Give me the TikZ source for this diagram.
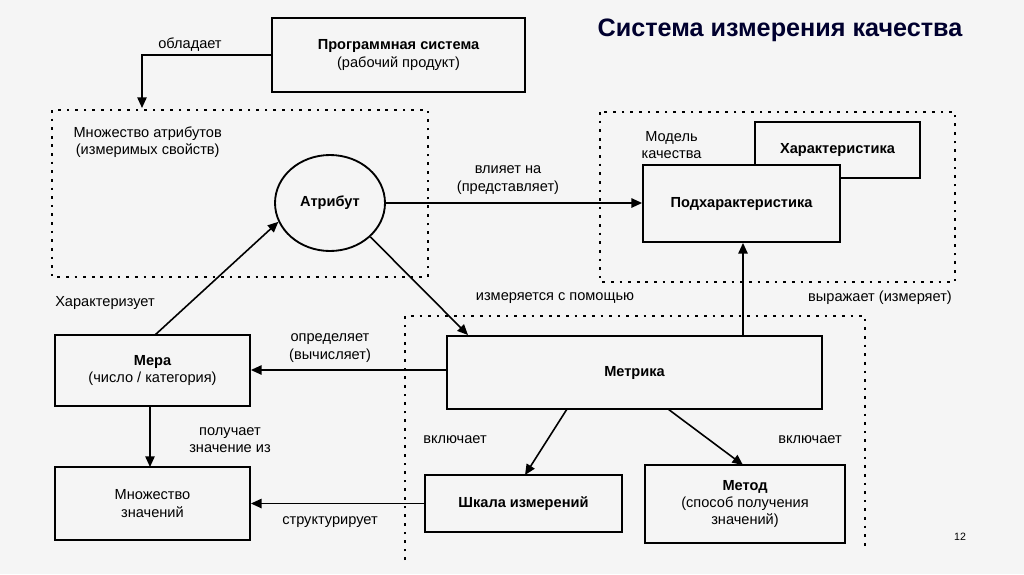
\documentclass[tikz,border=0pt]{standalone}
\usepackage{fontspec}
\setmainfont{Liberation Sans}
\usetikzlibrary{arrows.meta,shapes.geometric}
\begin{document}
\begin{tikzpicture}[x=0.0265cm,y=-0.0265cm,
 box/.style={draw,line width=1.4pt,font=\bfseries\fontsize{11}{13}\selectfont,align=center,inner sep=0pt},
 dotbox/.style={draw,line width=1.6pt,dash pattern=on 2pt off 4.5pt},
 arr/.style={line width=1.2pt,-{Triangle[length=8pt,width=7pt]}},
 lbl/.style={font=\fontsize{11}{13}\selectfont,align=center,inner sep=1pt}]
\fill[white!96!black] (0,0) rectangle (1024,574);
\useasboundingbox (0,0) rectangle (1024,574);
\node[font=\bfseries\fontsize{19}{22}\selectfont,text=black!70!blue!60!black] (title) at (780,30) {Система измерения качества};
\draw[dotbox] (52,110) rectangle (428,277);
\draw[dotbox] (600,112) rectangle (955,282);
\draw[dotbox] (405,560) -- (405,316) -- (865,316) -- (865,548);
\node[box,minimum width={253*0.754pt},minimum height={74*0.754pt}] (ps) at (398.5,55) {Программная система\\\mdseries(рабочий продукт)};
\coordinate (ms) at (142,108);
\draw[arr] (ps.west) -| (ms);
\node[lbl] (l1) at (190,45) {обладает};
\node[lbl,anchor=west] (mattr) at (72,142) {Множество атрибутов\\(измеримых свойств)};
\node[box,ellipse,draw,minimum width={110*0.754pt},minimum height={96*0.754pt}] (at) at (330,203) {Атрибут};
\node[box,minimum width={165*0.754pt},minimum height={56*0.754pt},fill=white!96!black] (ch) at (837.5,150) {Характеристика};
\node[box,minimum width={197*0.754pt},minimum height={77*0.754pt},fill=white!96!black] (sub) at (741.5,203.5) {Подхарактеристика};
\node[lbl,anchor=west] (mq) at (640,145) {Модель\\качества};
\draw[arr] (at.east) -- (sub.west|-at.east);
\node[lbl] (l2) at (508,180) {влияет на\\(представляет)};
\node[box,minimum width={375*0.754pt},minimum height={73*0.754pt}] (met) at (634.5,372.5) {Метрика};
\coordinate (mt1) at (468,335);
\draw[arr] (at.-40) -- (mt1);
\node[lbl] (l3) at (555,298) {измеряется с помощью};
\coordinate (c743) at (743,0);
\draw[arr] (met.north-|c743) -- (sub.south-|c743);
\node[lbl] (l4) at (880,298) {выражает (измеряет)};
\node[box,minimum width={195*0.754pt},minimum height={71*0.754pt}] (mera) at (152.5,370.5) {Мера\\\mdseries(число / категория)};
\coordinate (c370) at (0,370);
\draw[arr] (met.west|-c370) -- (mera.east|-c370);
\node[lbl] (l5) at (330,348) {определяет\\(вычисляет)};
\coordinate (m1) at (155,335);
\draw[arr] (m1) -- (at.-160);
\node[lbl] (l6) at (105,303) {Характеризует};
\node[box,minimum width={195*0.754pt},minimum height={73*0.754pt},font=\mdseries\fontsize{11}{13}\selectfont] (mz) at (152.5,503.5) {Множество\\значений};
\coordinate (m2) at (150,406);
\coordinate (m3) at (150,467);
\draw[arr] (m2) -- (m3);
\node[lbl] (l7) at (230,440) {получает\\значение из};
\node[box,minimum width={197*0.754pt},minimum height={57*0.754pt}] (sh) at (523.5,503.5) {Шкала измерений};
\draw[arr] (sh.west) -- (mz.east|-sh.west);
\node[lbl] (l8) at (330,522) {структурирует};
\node[box,minimum width={200*0.754pt},minimum height={78*0.754pt}] (md) at (745,504) {Метод\\\mdseries(способ получения\\\mdseries значений)};
\coordinate (k1) at (567,409);
\coordinate (k2) at (525,475);
\coordinate (k3) at (668,409);
\coordinate (k4) at (743,465);
\draw[arr] (k1) -- (k2);
\draw[arr] (k3) -- (k4);
\node[lbl] (l9) at (455,440) {включает};
\node[lbl] (l10) at (810,440) {включает};
\node[font=\fontsize{8}{10}\selectfont] (pg) at (960,537) {12};
\end{tikzpicture}
\end{document}
